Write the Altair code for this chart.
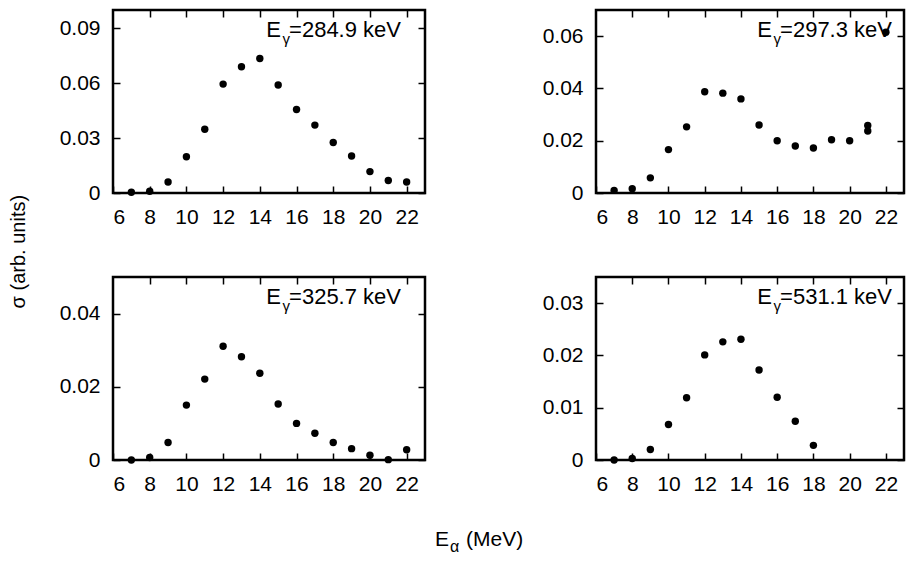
import pandas as pd
import altair as alt

FONT = "Liberation Sans"

e_alpha = list(range(7, 23))

sigma_284 = [0.0004, 0.001, 0.006, 0.0198, 0.0348, 0.0595, 0.069, 0.0735,
             0.059, 0.0456, 0.0371, 0.0276, 0.0202, 0.0117, 0.0068, 0.006]
e_alpha_297 = [7, 8, 9, 10, 11, 12, 13, 14, 15, 16, 17, 18, 19, 20, 21, 21, 22]
sigma_297 = [0.001, 0.0016, 0.0058, 0.0166, 0.0253, 0.0387, 0.0382, 0.036,
             0.026, 0.020, 0.018, 0.0172, 0.0204, 0.020, 0.0258, 0.0237, 0.0615]
sigma_325 = [0.0, 0.0007, 0.0048, 0.015, 0.0221, 0.0311, 0.0282, 0.0237,
             0.0153, 0.010, 0.0073, 0.0048, 0.0031, 0.0013, 0.0001, 0.0028]
e_alpha_531 = list(range(7, 19))
sigma_531 = [0.0, 0.0003, 0.002, 0.0068, 0.0119, 0.0201, 0.0226, 0.0231,
             0.0172, 0.012, 0.0074, 0.0028]

x_ticks = [6, 8, 10, 12, 14, 16, 18, 20, 22]
H = 183
TICK = 7
LFS = 21

ylab = "datum.value == 0 ? '0' : format(datum.value, '.2f')"


def panel(xs, ys, ymax, yticks, label, w, right_gap):
    df = pd.DataFrame({"e": xs, "s": ys})
    xsc = alt.Scale(domain=[6, 23], nice=False, zero=False)
    ysc = alt.Scale(domain=[0, ymax], nice=False)
    common = dict(labelFont=FONT, labelFontSize=LFS, labelColor="black",
                  tickColor="black", tickWidth=1.5, tickSize=TICK,
                  offset=-TICK, domain=False, grid=False, title=None)
    pts = alt.Chart(df).mark_circle(size=55, color="black", opacity=1).encode(
        x=alt.X("e:Q", scale=xsc,
                axis=alt.Axis(values=x_ticks, labelPadding=TICK + 6,
                              minExtent=30, maxExtent=30, **common)),
        y=alt.Y("s:Q", scale=ysc,
                axis=alt.Axis(values=yticks, labelExpr=ylab,
                              labelPadding=TICK + 6,
                              minExtent=70, maxExtent=70, **common)),
    )
    mirror = alt.Chart(df).mark_point(opacity=0).encode(
        x=alt.X("e:Q", scale=xsc,
                axis=alt.Axis(values=x_ticks[1:], orient="top", labels=False,
                              minExtent=0, maxExtent=0, **common)),
        y=alt.Y("s:Q", scale=ysc,
                axis=alt.Axis(values=yticks, orient="right", labels=False,
                              minExtent=0, maxExtent=0, **common)),
    )
    one = pd.DataFrame({"t": [label]})
    xr = w - right_gap
    lw = 5.09 * 22
    txt = dict(font=FONT, color="black", align="right", baseline="alphabetic")
    t1 = alt.Chart(one).mark_text(fontSize=22, **txt).encode(
        x=alt.value(xr), y=alt.value(27), text="t:N")
    t2 = alt.Chart(one).mark_text(fontSize=15, **txt).encode(
        x=alt.value(xr - lw + 1), y=alt.value(34), text=alt.value("γ"))
    t3 = alt.Chart(one).mark_text(fontSize=22, **txt).encode(
        x=alt.value(xr - lw - 8), y=alt.value(27), text=alt.value("E"))
    return alt.layer(pts, mirror, t1, t2, t3).resolve_axis(
        x="independent", y="independent"
    ).properties(width=w, height=H)


p1 = panel(e_alpha, sigma_284, 0.1, [0, 0.03, 0.06, 0.09], "=284.9 keV", 312, 24)
p2 = panel(e_alpha_297, sigma_297, 0.07, [0, 0.02, 0.04, 0.06], "=297.3 keV", 308, 12)
p3 = panel(e_alpha, sigma_325, 0.05, [0, 0.02, 0.04], "=325.7 keV", 312, 24)
p4 = panel(e_alpha_531, sigma_531, 0.035, [0, 0.01, 0.02, 0.03], "=531.1 keV", 308, 12)

grid = alt.vconcat(
    alt.hconcat(p1, p2, spacing=104),
    alt.hconcat(p3, p4, spacing=104),
    spacing=46,
).properties(
    title=alt.TitleParams("σ (arb. units)", orient="left", anchor="middle",
                          font=FONT, fontSize=20, fontWeight="normal",
                          color="black", offset=20)
)

one = pd.DataFrame({"t": ["(MeV)"]})
tx = dict(font=FONT, color="black", align="left", baseline="alphabetic")
xt = alt.layer(
    alt.Chart(one).mark_text(fontSize=21, **tx).encode(
        x=alt.value(322), y=alt.value(48), text=alt.value("E")),
    alt.Chart(one).mark_text(fontSize=16, **tx).encode(
        x=alt.value(337), y=alt.value(54), text=alt.value("α")),
    alt.Chart(one).mark_text(fontSize=21, **tx).encode(
        x=alt.value(353), y=alt.value(48), text="t:N"),
).properties(width=600, height=60, view=alt.ViewConfig(stroke="transparent"))

chart = alt.vconcat(grid, xt, spacing=0).properties(padding=0).configure_view(
    stroke="black", strokeWidth=2.5
)

chart.save("out.html", embed_options={"renderer": "svg", "actions": False})
